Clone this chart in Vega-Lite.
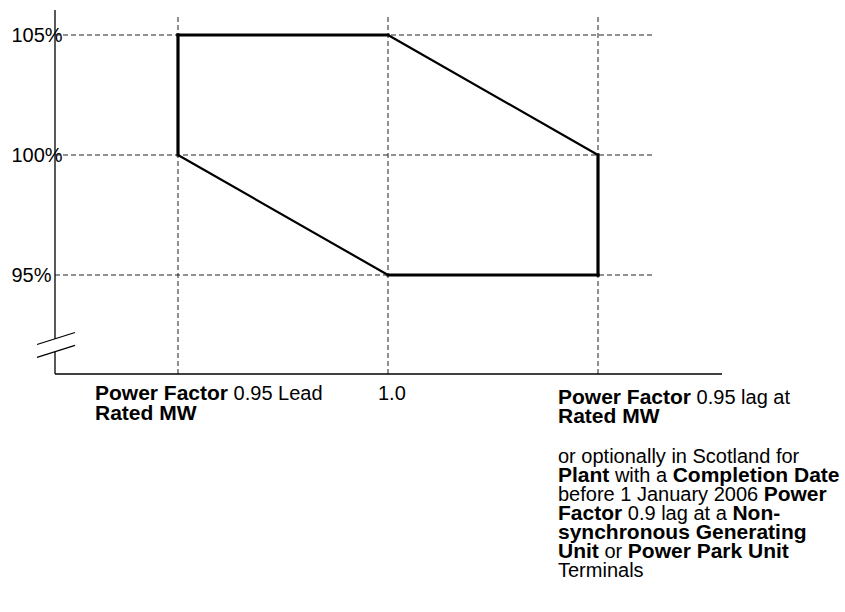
{
  "$schema": "https://vega.github.io/schema/vega-lite/v6.json",
  "autosize": "none",
  "width": 667,
  "height": 364,
  "padding": {"left": 55, "top": 10, "right": 123, "bottom": 238},
  "background": "white",
  "config": {"view": {"stroke": null}},
  "datasets": {
    "gridx": [{"pf": 0}, {"pf": 1}, {"pf": 2}],
    "gridy": [{"pct": 95}, {"pct": 100}, {"pct": 105}],
    "envelope": [
      {"x1": 0, "y1": 100, "x2": 0, "y2": 105, "kind": "limit"},
      {"x1": 0, "y1": 105, "x2": 1, "y2": 105, "kind": "limit"},
      {"x1": 2, "y1": 100, "x2": 2, "y2": 95, "kind": "limit"},
      {"x1": 1, "y1": 95, "x2": 2, "y2": 95, "kind": "limit"},
      {"x1": 1, "y1": 105, "x2": 2, "y2": 100, "kind": "slope"},
      {"x1": 0, "y1": 100, "x2": 1, "y2": 95, "kind": "slope"}
    ],
    "frame": [
      {"x1": -0.585714, "y1": 90.875, "x2": 2.590476, "y2": 90.875, "part": "axis"},
      {"x1": -0.585714, "y1": 90.875, "x2": -0.585714, "y2": 91.79, "part": "axis"},
      {"x1": -0.585714, "y1": 92.333, "x2": -0.585714, "y2": 106.041667, "part": "axis"},
      {"x1": -0.6714, "y1": 92.104, "x2": -0.4905, "y2": 92.604, "part": "break"},
      {"x1": -0.6714, "y1": 91.571, "x2": -0.4905, "y2": 92.063, "part": "break"}
    ],
    "labels": [
      {"text": "Power Factor", "x": -0.39524, "y": 89.7917, "style": "defined"},
      {"text": "0.95 Lead", "x": 0.26476, "y": 89.7917, "style": "plain"},
      {"text": "Rated MW", "x": -0.39524, "y": 88.9583, "style": "defined"},
      {"text": "1.0", "x": 0.95238, "y": 89.7917, "style": "plain"},
      {"text": "Power Factor", "x": 1.80952, "y": 89.625, "style": "defined"},
      {"text": "0.95 lag at", "x": 2.46952, "y": 89.625, "style": "plain"},
      {"text": "Rated MW", "x": 1.80952, "y": 88.8333, "style": "defined"},
      {"text": "or optionally in Scotland for", "x": 1.80952, "y": 87.1667, "style": "plain"},
      {"text": "Plant", "x": 1.80952, "y": 86.375, "style": "defined"},
      {"text": "with a", "x": 2.08048, "y": 86.375, "style": "plain"},
      {"text": "Completion Date", "x": 2.35571, "y": 86.375, "style": "defined"},
      {"text": "before 1 January 2006", "x": 1.80952, "y": 85.5833, "style": "plain"},
      {"text": "Power", "x": 2.78905, "y": 85.5833, "style": "defined"},
      {"text": "Factor", "x": 1.80952, "y": 84.7917, "style": "defined"},
      {"text": "0.9 lag at a", "x": 2.1419, "y": 84.7917, "style": "plain"},
      {"text": "Non-", "x": 2.64, "y": 84.7917, "style": "defined"},
      {"text": "synchronous Generating", "x": 1.80952, "y": 84.0, "style": "defined"},
      {"text": "Unit", "x": 1.80952, "y": 83.2083, "style": "defined"},
      {"text": "or", "x": 2.03048, "y": 83.2083, "style": "plain"},
      {"text": "Power Park Unit", "x": 2.1419, "y": 83.2083, "style": "defined"},
      {"text": "Terminals", "x": 1.80952, "y": 82.4167, "style": "plain"}
    ]
  },
  "layer": [
    {
      "data": {"name": "gridy"},
      "mark": {"type": "rule", "strokeDash": [5, 3], "strokeWidth": 1, "color": "#222"},
      "encoding": {
        "y": {"field": "pct", "type": "quantitative",
              "scale": {"domain": [90.875, 106.041667], "nice": false, "zero": false},
              "axis": {"values": [95, 100, 105], "labelExpr": "datum.value + '%'", "domain": false, "ticks": false, "grid": false,
                       "labelAlign": "left", "labelPadding": 44, "labelBaseline": "middle", "labelFont": "Liberation Sans",
                       "labelFontSize": 20, "labelColor": "black", "title": null}},
        "x": {"datum": -0.585714, "type": "quantitative",
              "scale": {"domain": [-0.585714, 2.590476], "nice": false, "zero": false}, "axis": null},
        "x2": {"datum": 2.2714}
      }
    },
    {
      "data": {"name": "gridx"},
      "mark": {"type": "rule", "strokeDash": [5, 3], "strokeWidth": 1, "color": "#222"},
      "encoding": {
        "x": {"field": "pf", "type": "quantitative", "axis": null},
        "y": {"datum": 90.875, "type": "quantitative"},
        "y2": {"datum": 105.75}
      }
    },
    {
      "data": {"name": "frame"},
      "mark": {"type": "rule", "strokeWidth": 1.3, "color": "black"},
      "encoding": {
        "x": {"field": "x1", "type": "quantitative", "axis": null},
        "x2": {"field": "x2"},
        "y": {"field": "y1", "type": "quantitative"},
        "y2": {"field": "y2"}
      }
    },
    {
      "data": {"name": "envelope"},
      "transform": [{"filter": "datum.kind === 'slope'"}],
      "mark": {"type": "rule", "strokeWidth": 2.2, "color": "black", "strokeCap": "round"},
      "encoding": {
        "x": {"field": "x1", "type": "quantitative", "axis": null},
        "x2": {"field": "x2"},
        "y": {"field": "y1", "type": "quantitative"},
        "y2": {"field": "y2"}
      }
    },
    {
      "data": {"name": "envelope"},
      "transform": [{"filter": "datum.kind === 'limit'"}],
      "mark": {"type": "rule", "strokeWidth": 3.2, "color": "black", "strokeCap": "square"},
      "encoding": {
        "x": {"field": "x1", "type": "quantitative", "axis": null},
        "x2": {"field": "x2"},
        "y": {"field": "y1", "type": "quantitative"},
        "y2": {"field": "y2"}
      }
    },
    {
      "data": {"name": "labels"},
      "transform": [{"filter": "datum.style === 'plain'"}],
      "mark": {"type": "text", "align": "left", "baseline": "alphabetic", "font": "Liberation Sans", "fontSize": 20, "color": "black"},
      "encoding": {
        "x": {"field": "x", "type": "quantitative", "axis": null},
        "y": {"field": "y", "type": "quantitative"},
        "text": {"field": "text"}
      }
    },
    {
      "data": {"name": "labels"},
      "transform": [{"filter": "datum.style === 'defined'"}],
      "mark": {"type": "text", "align": "left", "baseline": "alphabetic", "font": "Liberation Sans", "fontSize": 21, "fontWeight": "bold", "color": "black"},
      "encoding": {
        "x": {"field": "x", "type": "quantitative", "axis": null},
        "y": {"field": "y", "type": "quantitative"},
        "text": {"field": "text"}
      }
    }
  ]
}
